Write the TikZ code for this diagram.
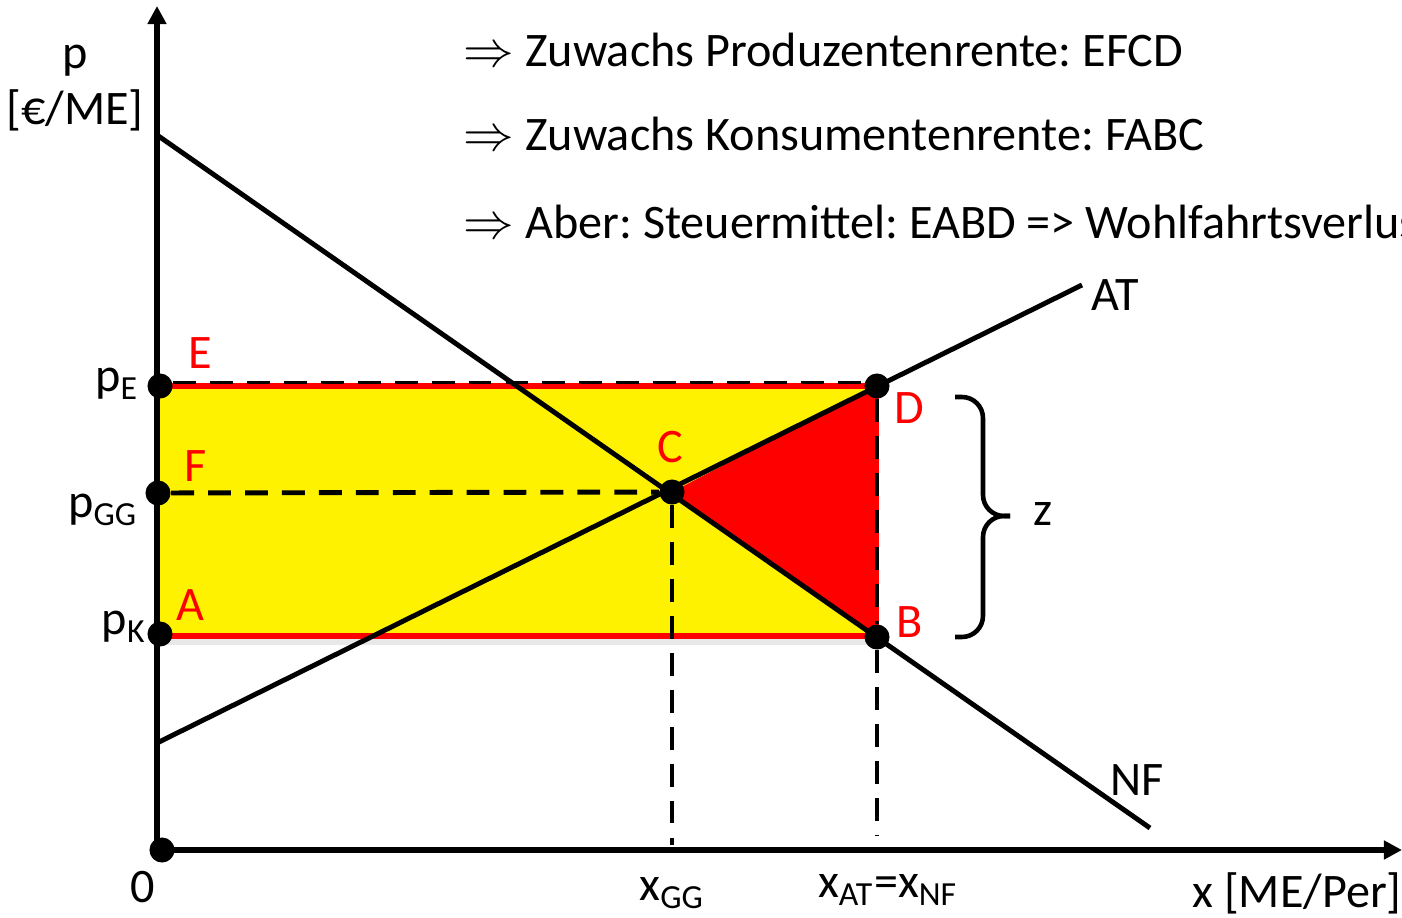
\documentclass[tikz,border=0pt]{standalone}
\usepackage{fontspec}
\setmainfont{Carlito}
\usetikzlibrary{arrows.meta,shadows}

\begin{document}
\begin{tikzpicture}[
  x=0.01cm, y=-0.01cm,
  font=\fontsize{13.7}{16}\selectfont,
  axis/.style={line width=1.6pt, -{Triangle[length=1.8mm, width=1.8mm]}},
  curve/.style={line width=1.4pt},
  guide/.style={line width=1.4pt, dash pattern=on 6.5pt off 4pt},
  pt/.style={circle, fill=black, inner sep=0pt, minimum size=0.25cm},
  lbl/.style={text=red, inner sep=0pt},
  tick/.style={inner sep=0pt},
  brace/.style={line width=1.3pt, rounded corners=6pt},
  impl/.style={tick, anchor=west}
]
\useasboundingbox (0,0) rectangle (1402,918);
\frenchspacing
\newcommand\impliesarrow{{\fontsize{14.5}{14.5}\selectfont$\Rightarrow$}}

% ---- areas
\draw[red, line width=1.6pt, fill=yellow,
      drop shadow={opacity=0.18, shadow xshift=0pt, shadow yshift=-2.5pt}]
  (157,386) rectangle (876,636);
\fill[red] (672,492) -- (876,386) -- (876,637) -- cycle;

% ---- points
\node[pt] (O)   at (162,850) {};
\node[pt] (pE)  at (160,386) {};
\node[pt] (pGG) at (158,493) {};
\node[pt] (pK)  at (160,634) {};
\node[pt] (C)   at (672,492) {};
\node[pt] (D)   at (877,386) {};
\node[pt] (B)   at (877,637) {};
\coordinate (xGG) at (672,845);
\coordinate (xAT) at (877,836);

% ---- guides
\draw[guide, line width=1pt] ([yshift=1pt]pE.east) -- ([yshift=1pt]D.west);
\draw[guide] (pGG) -- (C);
\draw[guide] (C) -- (xGG);
\draw[guide] (D) -- (B);
\draw[guide] (B) -- (xAT);

% ---- curves
\coordinate (NF0) at (157,135);
\coordinate (NF1) at (1150,828);
\coordinate (AT0) at (157,743);
\coordinate (AT1) at (1082,285);
\draw[curve] (NF0) -- (NF1);
\draw[curve] (AT0) -- (AT1);

% ---- axes
\coordinate (yTop) at (157,6);
\coordinate (xEnd) at (1402,850);
\draw[axis] (157,852) -- (yTop);
\draw[axis] (155,850) -- (xEnd);

% ---- brace
\coordinate (zmid) at (1010,516);
\draw[brace] (955,397) -- (983,397) -- (983,516) -- (zmid);
\draw[brace] (955,637) -- (983,637) -- (983,516) -- (zmid);
\node[tick] (z) at (1043,514) {z};

% ---- labels
\node[tick, align=center] (ylab) at (75,88) {p\\{[€/ME]}};
\node[tick] (xlab) at (1297,893) {x [ME/Per]};
\node[tick] (zero) at (143,887) {0};
\node[tick] (lxGG) at (672,893) {x\textsubscript{GG}};
\node[tick] (lxAT) at (888,890) {x\textsubscript{AT}=x\textsubscript{NF}};
\node[tick] (lpE)  at (117,384) {p\textsubscript{E}};
\node[tick] (lpGG) at (103,510) {p\textsubscript{GG}};
\node[tick] (lpK)  at (124,627) {p\textsubscript{K}};
\node[tick] (lAT)  at (1115,295) {AT};
\node[tick] (lNF)  at (1137,780) {NF};

\node[lbl] (lE) at (200,353) {E};
\node[lbl] (lF) at (196,466) {F};
\node[lbl] (lA) at (190,605) {A};
\node[lbl] (lC) at (670,447) {C};
\node[lbl] (lD) at (909,408) {D};
\node[lbl] (lB) at (910,622) {B};

% ---- conclusions
\node[impl] (t1) at (463,50)  {\impliesarrow{} Zuwachs Produzentenrente: EFCD};
\node[impl] (t2) at (463,134) {\impliesarrow{} Zuwachs Konsumentenrente: FABC};
\node[impl] (t3) at (463,222) {\impliesarrow{} Aber: Steuermittel: EABD => Wohlfahrtsverlust};
\end{tikzpicture}
\end{document}
